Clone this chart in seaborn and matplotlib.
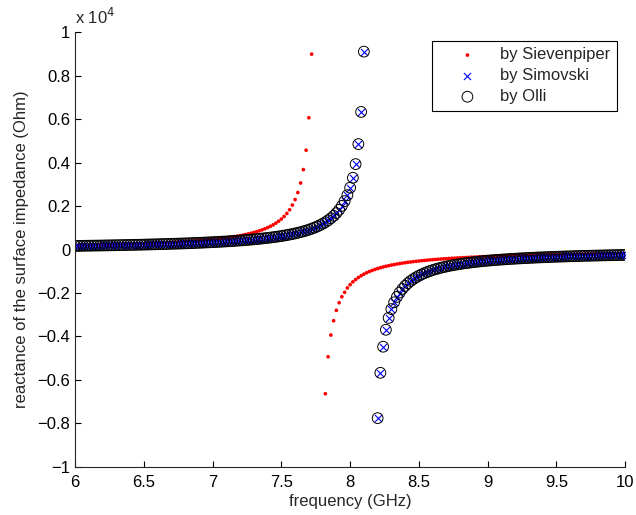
import numpy as np
import pandas as pd
import matplotlib
matplotlib.use("Agg")
import matplotlib.pyplot as plt
from matplotlib.ticker import FuncFormatter, MultipleLocator
import seaborn as sns

nan = np.nan

# frequency grid (GHz), 0.02 GHz step
frequency_ghz = np.linspace(6, 10, 201)

# reactance (Ohm); nan = outside the plotted range
sievenpiper_reactance = [
    185, 187, 190, 193, 195, 198, 201, 204, 206, 209,
    212, 216, 219, 222, 226, 229, 233, 236, 240, 244,
    248, 252, 256, 261, 265, 270, 275, 280, 285, 290,
    296, 301, 307, 313, 320, 326, 333, 340, 347, 355,
    363, 371, 380, 389, 398, 408, 418, 429, 441, 453,
    465, 479, 493, 507, 523, 540, 557, 576, 596, 617,
    640, 665, 691, 720, 751, 785, 821, 862, 906, 955,
    1009, 1069, 1137, 1215, 1303, 1404, 1523, 1662, 1830, 2050,
    2300, 2625, 3065, 3680, 4575, 6070, 9000, nan, nan, nan,
    nan, -6645, -4940, -3940, -3281, -2802, -2452, -2175, -1972, -1770,
    -1620, -1490, -1385, -1290, -1210, -1135, -1070, -1015, -965, -918,
    -877, -838, -804, -773, -744, -717, -692, -669, -647, -627,
    -608, -590, -574, -558, -543, -529, -515, -503, -491, -479,
    -468, -458, -448, -438, -429, -421, -412, -404, -397, -389,
    -382, -375, -369, -363, -356, -351, -345, -339, -334, -329,
    -324, -319, -314, -310, -305, -301, -297, -293, -289, -285,
    -282, -278, -275, -271, -268, -265, -262, -259, -256, -253,
    -250, -247, -244, -242, -239, -237, -234, -232, -229, -227,
    -225, -223, -220, -218, -216, -214, -212, -210, -208, -206,
    -205, -203, -201, -199, -198, -196, -194, -193, -191, -189,
    -188,
]

simovski_reactance = [
    166, 168, 170, 172, 174, 176, 178, 180, 182, 184,
    186, 189, 191, 193, 196, 198, 201, 203, 206, 209,
    211, 214, 217, 220, 223, 226, 229, 233, 236, 239,
    243, 246, 250, 254, 258, 262, 266, 270, 274, 279,
    283, 288, 293, 298, 303, 309, 314, 320, 326, 332,
    338, 345, 352, 359, 366, 373, 381, 389, 398, 407,
    416, 426, 436, 446, 457, 469, 481, 493, 506, 520,
    535, 551, 567, 584, 603, 622, 643, 665, 689, 714,
    741, 771, 802, 836, 873, 914, 958, 1007, 1060, 1120,
    1186, 1260, 1344, 1440, 1551, 1679, 1830, 2010, 2230, 2502,
    2848, 3305, 3934, 4857, 6339, 9116, nan, nan, nan, nan,
    -7768, -5680, -4478, -3698, -3151, -2745, -2433, -2185, -1983, -1816,
    -1675, -1554, -1450, -1360, -1280, -1209, -1146, -1089, -1037, -991,
    -948, -909, -873, -840, -810, -781, -755, -730, -707, -686,
    -666, -647, -629, -612, -596, -581, -566, -552, -539, -527,
    -515, -504, -493, -483, -473, -464, -455, -446, -438, -430,
    -422, -414, -407, -400, -394, -387, -381, -375, -369, -364,
    -358, -353, -348, -343, -338, -333, -329, -324, -320, -316,
    -312, -308, -304, -300, -297, -293, -290, -286, -283, -280,
    -277, -274, -271, -268, -265, -262, -260, -257, -254, -252,
    -249,
]

# Olli's result lies on top of Simovski's
olli_reactance = list(simovski_reactance)

df = pd.DataFrame({
    "frequency": frequency_ghz,
    "sievenpiper": sievenpiper_reactance,
    "simovski": simovski_reactance,
    "olli": olli_reactance,
})

sns.set_style("ticks")
plt.rcParams["font.family"] = ["Liberation Sans", "DejaVu Sans"]
plt.rcParams["font.size"] = 12
plt.rcParams["xtick.direction"] = "in"
plt.rcParams["ytick.direction"] = "in"
plt.rcParams["axes.linewidth"] = 0.8

fig = plt.figure(figsize=(6.36, 5.15), dpi=100)
ax = fig.add_axes([0.118, 0.094, 0.865, 0.843])

sns.scatterplot(
    data=df, x="frequency", y="sievenpiper",
    marker="o", color="red", s=7, edgecolor="none",
    label="by Sievenpiper", ax=ax
)

sns.scatterplot(
    data=df, x="frequency", y="simovski",
    marker="x", color="blue", s=26, linewidth=0.8,
    label="by Simovski", ax=ax
)

sns.scatterplot(
    data=df, x="frequency", y="olli",
    marker="o", s=60, facecolors="none", edgecolor="black",
    linewidth=0.7, label="by Olli", ax=ax
)

ax.set_xlim(6, 10)
ax.set_ylim(-1e4, 1e4)
ax.xaxis.set_major_locator(MultipleLocator(0.5))
ax.yaxis.set_major_locator(MultipleLocator(2000))
ax.xaxis.set_major_formatter(FuncFormatter(lambda v, p: f"{v:g}"))
ax.yaxis.set_major_formatter(
    FuncFormatter(lambda v, p: f"{v / 1e4:.1f}".rstrip("0").rstrip(".").replace("-", "\u2212")
                  if abs(v) > 1 else "0")
)
ax.tick_params(length=4, width=0.8, labelsize=12, colors="black")
ax.tick_params(axis="x", pad=6)

sns.despine(ax=ax)

ax.set_xlabel("frequency (GHz)", fontsize=12, labelpad=3)
ax.set_ylabel("reactance of the surface impedance (Ohm)", fontsize=12, labelpad=6)

ax.text(0, 1.012, r"x 10$^{4}$", transform=ax.transAxes,
        ha="left", va="bottom", fontsize=12)

leg = ax.legend(
    loc="upper right",
    frameon=True,
    fancybox=False,
    framealpha=1,
    edgecolor="black",
    borderaxespad=0.5,
    handlelength=3.4,
    handletextpad=0.25,
    labelspacing=0.35,
    fontsize=12,
)
leg.get_frame().set_linewidth(0.8)

fig.savefig("out.png", dpi=100)
plt.close(fig)
